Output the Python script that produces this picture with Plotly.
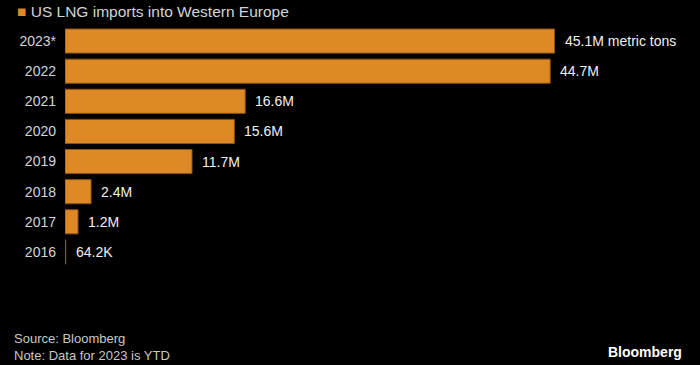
import plotly.graph_objects as go

years = ["2023*", "2022", "2021", "2020", "2019", "2018", "2017", "2016"]
values = [45.1, 44.7, 16.6, 15.6, 11.7, 2.4, 1.2, 0.0642]
labels = ["45.1M metric tons", "44.7M", "16.6M", "15.6M", "11.7M", "2.4M", "1.2M", "64.2K"]

FONT = "Liberation Sans, Arial, sans-serif"
ORANGE = "#DD8A26"

order = years[::-1]  # bottom to top

fig = go.Figure()
fig.add_trace(go.Bar(
    y=years, x=values, orientation="h",
    marker=dict(color=ORANGE, line=dict(color="#8a5416", width=1)),
    hoverinfo="skip",
))
for y, v, t in zip(years, values, labels):
    fig.add_annotation(x=v, y=order.index(y), text=t, showarrow=False, xanchor="left",
                       xshift=8, font=dict(family=FONT, size=14, color="#f0f0f0"))

fig.update_layout(
    width=700, height=365,
    paper_bgcolor="black", plot_bgcolor="black",
    margin=dict(l=65, r=0, t=26, b=98),
    bargap=0.2,
    showlegend=False,
    xaxis=dict(range=[0, 58.5], visible=False, fixedrange=True),
    yaxis=dict(type="category", categoryorder="array", categoryarray=order,
               range=[-0.5, len(years) - 0.5], fixedrange=True,
               showgrid=False, zeroline=False, showline=False,
               ticks="", ticklabelstandoff=8,
               tickfont=dict(family=FONT, size=14, color="#d4d4d4")),
)
fig.add_annotation(xref="paper", yref="paper", x=-50/635, y=1 + 14/241, xanchor="left", yanchor="middle",
                   text="<span style='color:%s'>■</span> US LNG imports into Western Europe" % ORANGE,
                   showarrow=False, font=dict(family=FONT, size=15.5, color="#d4d4d4"))
fig.add_annotation(xref="paper", yref="paper", x=-53/635, y=-(338-267)/241, xanchor="left", yanchor="middle",
                   text="Source: Bloomberg", showarrow=False,
                   font=dict(family=FONT, size=13, color="#c8c8c8"))
fig.add_annotation(xref="paper", yref="paper", x=-53/635, y=-(355-267)/241, xanchor="left", yanchor="middle",
                   text="Note: Data for 2023 is YTD", showarrow=False,
                   font=dict(family=FONT, size=13, color="#c8c8c8"))
fig.add_annotation(xref="paper", yref="paper", x=(684-65)/635, y=-(352-267)/241, xanchor="right", yanchor="middle",
                   text="<b>Bloomberg</b>", showarrow=False,
                   font=dict(family=FONT, size=14, color="#ffffff"))

fig.write_html("out.html", config={"displayModeBar": False},
               post_script="document.body.style.margin='0';document.body.style.background='black';")
